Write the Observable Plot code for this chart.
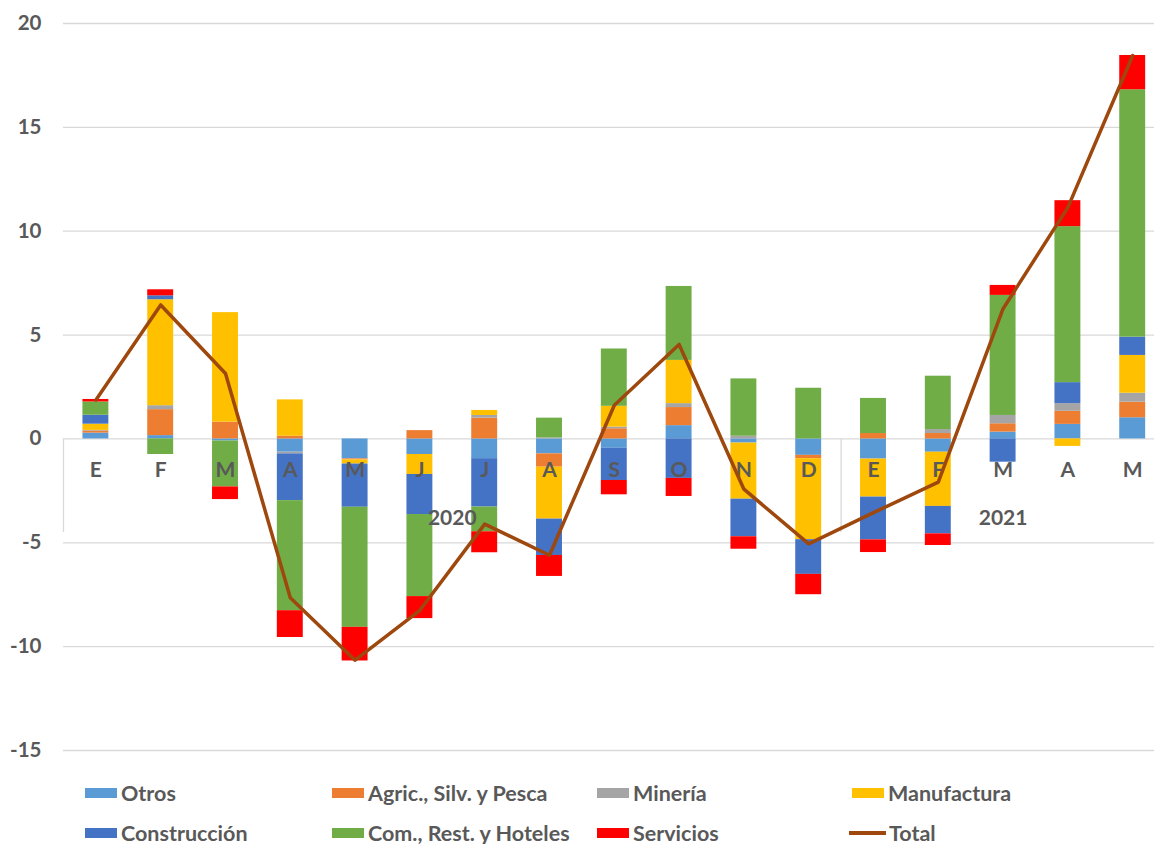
<!DOCTYPE html>
<html><head><meta charset="utf-8">
<script src="https://cdn.jsdelivr.net/npm/d3@7"></script>
<script src="https://cdn.jsdelivr.net/npm/@observablehq/plot@0.6"></script>
<style>
html,body{margin:0;padding:0;background:#fff;overflow:hidden;}
#wrap{position:relative;width:1154px;height:844px;}
#legend{position:absolute;left:0;top:770px;width:1154px;height:74px;font-family:Lato, sans-serif;font-weight:700;font-size:21.5px;color:#595959;}
.item{position:absolute;display:flex;align-items:center;height:20px;white-space:nowrap;}
.sw{width:32px;height:10px;margin-right:4px;}
.ln{width:37px;height:3.5px;margin-right:3px;}
</style></head><body><div id="wrap"><div id="chart"></div><div id="legend"></div></div>
<script>
// ---- data ----
const monthLabels = ["E","F","M","A","M","J","J","A","S","O","N","D","E","F","M","A","M"];
const monthYears  = [2020,2020,2020,2020,2020,2020,2020,2020,2020,2020,2020,2020,2021,2021,2021,2021,2021];
const seriesNames = ["Otros","Agric., Silv. y Pesca","Minería","Manufactura","Construcción","Com., Rest. y Hoteles","Servicios"];
const seriesColors = ["#5B9BD5","#ED7D31","#A5A5A5","#FFC000","#4472C4","#70AD47","#FF0000"];
const otros   = [0.28, 0.16, -0.10, -0.64, -0.96, -0.75, -0.95, -0.72, -0.45, 0.64, -0.20, -0.79, -0.97, -0.64, 0.33, 0.70, 1.02];
const agric   = [0.10, 1.25, 0.81, 0.13, -0.05, 0.40, 1.00, -0.64, 0.49, 0.87, 0.00, -0.16, 0.26, 0.26, 0.40, 0.63, 0.75];
const mineria = [0.03, 0.19, 0.00, -0.08, 0.00, 0.00, 0.13, 0.05, 0.08, 0.19, 0.13, 0.00, 0.00, 0.19, 0.40, 0.37, 0.43];
const manuf   = [0.30, 5.10, 5.27, 1.75, -0.20, -0.96, 0.24, -2.50, 1.00, 2.08, -2.70, -3.90, -1.83, -2.61, 0.00, -0.36, 1.82];
const constr  = [0.43, 0.19, 0.00, -2.25, -2.08, -1.93, -2.33, -1.75, -1.55, -1.90, -1.81, -1.67, -2.06, -1.32, -1.12, 1.01, 0.88];
const comercio= [0.64, -0.75, -2.21, -5.30, -5.78, -3.95, -1.19, 0.95, 2.76, 3.56, 2.76, 2.44, 1.69, 2.57, 5.78, 7.51, 11.91];
const servicios=[0.12, 0.29, -0.61, -1.29, -1.62, -1.06, -1.01, -1.01, -0.69, -0.87, -0.60, -0.98, -0.61, -0.56, 0.48, 1.25, 1.65];
const total   = [1.87, 6.45, 3.15, -7.65, -10.65, -8.25, -4.10, -5.60, 1.62, 4.55, -2.42, -5.05, -3.55, -2.08, 6.27, 11.15, 18.46];
const yTicks = [-15, -10, -5, 0, 5, 10, 15, 20];
const yearLabels = ["2020", "2021"];

// ---- tables ----
const keys = monthLabels.map((m, i) => monthYears[i] + "-" + i);
const seriesValues = [otros, agric, mineria, manuf, constr, comercio, servicios];
const bars = [];
seriesNames.forEach((s, si) => seriesValues[si].forEach((v, i) => { if (v !== 0) bars.push({key: keys[i], series: s, value: v}); }));
const totals = keys.map((k, i) => ({key: k, value: total[i]}));
const monthRows = keys.map((k, i) => ({key: k, label: monthLabels[i]}));

const left = 63, step = 64.8;
const gray = "#595959", grid = "#D9D9D9";

const yearMarks = [];
const boundaries = [];
yearLabels.forEach(y => {
  const idx = keys.map((k, i) => i).filter(i => String(monthYears[i]) === y);
  const mid = idx[0] + (idx.length - 1) / 2;
  const base = Math.floor(mid);
  yearMarks.push(Plot.text([{key: keys[base], label: y}], {x: "key", y: () => 0, text: "label", dx: (mid - base) * step, dy: 79, fontSize: 21, fontWeight: "bold", fill: gray}));
  boundaries.push({key: keys[idx[0]]});
});

const chart = Plot.plot({
  width: 1154, height: 770,
  marginLeft: left, marginRight: 0, marginTop: 23, marginBottom: 20,
  style: {fontFamily: "Lato, sans-serif", background: "white"},
  x: {domain: keys, range: [left, left + step * keys.length], paddingInner: 0.6, paddingOuter: 0.3, round: false, axis: null},
  y: {domain: [-15, 20], axis: null},
  color: {domain: seriesNames, range: seriesColors},
  marks: [
    Plot.ruleY(yTicks, {stroke: grid, strokeWidth: 1.3}),
    Plot.ruleX(boundaries, {x: "key", y1: 0, y2: -4.5, dx: -step / 2, stroke: grid, strokeWidth: 1.3}),
    Plot.axisY(yTicks, {tickSize: 0, tickPadding: 22, fontSize: 20.5, fontWeight: "bold", fill: gray, label: null, tickFormat: d => String(d)}),
    Plot.barY(bars, {x: "key", y: "value", fill: "series"}),
    Plot.text(monthRows, {x: "key", y: () => 0, text: "label", dy: 31, fontSize: 21, fontWeight: "bold", fill: gray}),
    ...yearMarks,
    Plot.line(totals, {x: "key", y: "value", stroke: "#9E480E", strokeWidth: 3.5, strokeLinejoin: "round"})
  ]
});
document.getElementById("chart").appendChild(chart);

// ---- legend ----
const legendItems = [
  {name: seriesNames[0], color: seriesColors[0], x: 85, row: 0},
  {name: seriesNames[1], color: seriesColors[1], x: 332, row: 0},
  {name: seriesNames[2], color: seriesColors[2], x: 597, row: 0},
  {name: seriesNames[3], color: seriesColors[3], x: 852, row: 0},
  {name: seriesNames[4], color: seriesColors[4], x: 85, row: 1},
  {name: seriesNames[5], color: seriesColors[5], x: 332, row: 1},
  {name: seriesNames[6], color: seriesColors[6], x: 597, row: 1},
  {name: "Total", color: "#9E480E", x: 849, row: 1, line: true}
];
const legend = document.getElementById("legend");
legendItems.forEach(it => {
  const d = document.createElement("div");
  d.className = "item";
  d.style.left = it.x + "px";
  d.style.top = (it.row === 0 ? 13 : 53) + "px";
  const s = document.createElement("span");
  s.className = it.line ? "ln" : "sw";
  s.style.background = it.color;
  const t = document.createElement("span");
  t.textContent = it.name;
  d.appendChild(s); d.appendChild(t);
  legend.appendChild(d);
});
</script>
</body></html>
